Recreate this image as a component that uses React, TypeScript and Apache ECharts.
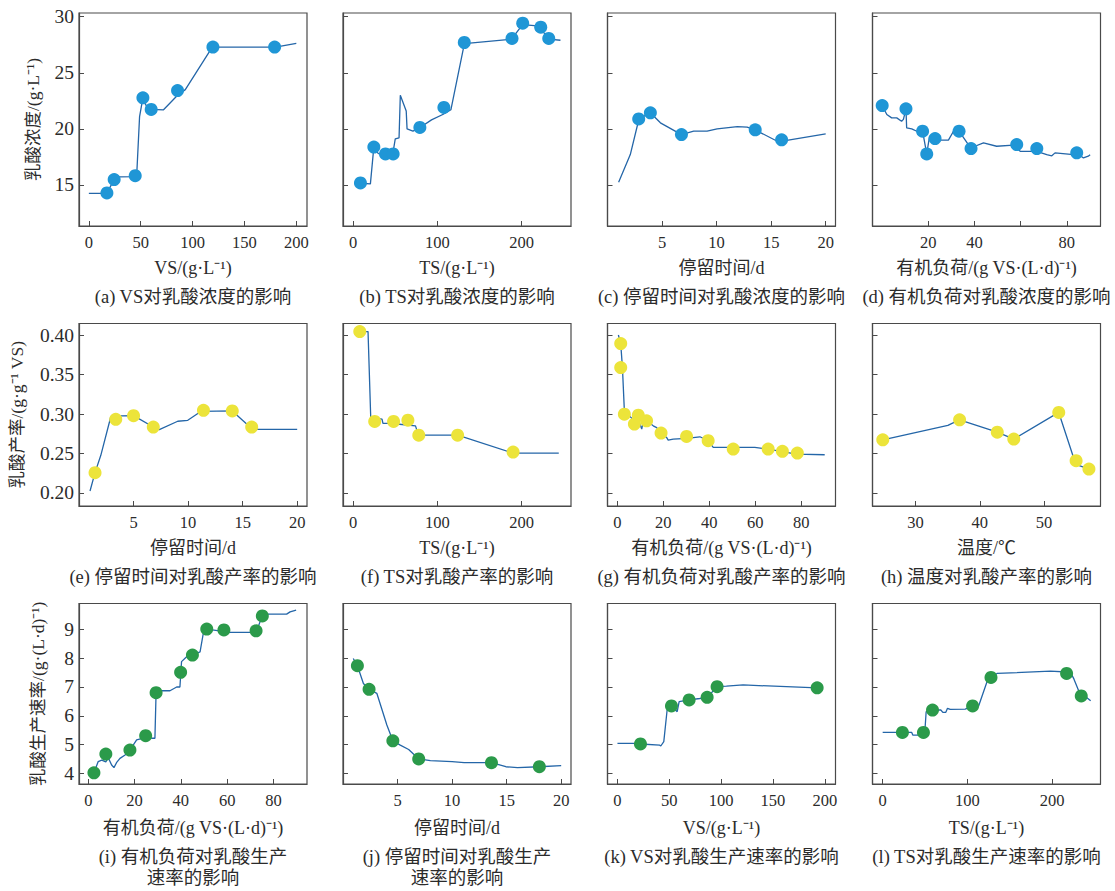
import React, { useEffect, useRef } from "react";
import * as echarts from "echarts";

// ---- 乳酸浓度 (g·L⁻¹) ----
const vsConcPoints = [[17.4, 14.29], [24.4, 15.48], [44.7, 15.83], [52.1, 22.77], [60.1, 21.73], [85.5, 23.42], [119.6, 27.29], [179.1, 27.29]];
const vsConcCurve = [[0, 14.25], [11, 14.25], [17.4, 14.29], [21, 14.9], [24.4, 15.48], [29, 15.72], [44, 15.75], [46.3, 16.2], [48.9, 21.1], [52.1, 22.77], [56, 21.9], [60.1, 21.73], [72, 21.7], [85.5, 23.0], [93, 23.5], [117, 27.0], [120, 27.29], [180, 27.29], [200, 27.62]];

const tsConcPoints = [[8.7, 15.18], [24.6, 18.38], [38.4, 17.76], [47.5, 17.76], [79.2, 20.13], [107.7, 21.91], [131.9, 27.7], [188.5, 28.06], [201.2, 29.42], [222.6, 29.07], [232.1, 28.06]];
const tsConcCurve = [[8.7, 15.15], [20.5, 15.1], [24.5, 18.3], [30, 17.8], [47, 17.75], [50, 19.1], [54.5, 19.2], [56, 23.0], [63, 21.6], [64, 20.0], [71, 19.8], [79, 20.1], [93, 20.8], [107, 21.3], [116, 21.7], [132, 27.6], [188, 28.0], [201, 29.3], [215, 29.2], [222, 29.0], [232, 28.0], [246, 27.9]];

const hrtConcPoints = [[2.86, 20.89], [3.93, 21.43], [6.78, 19.49], [13.54, 19.91], [15.96, 19.02]];
const hrtConcCurve = [[1.02, 15.24], [2.09, 17.71], [2.76, 20.39], [2.86, 20.89], [3.93, 21.43], [4.85, 20.54], [6.78, 19.49], [7.9, 19.79], [9.13, 19.79], [10.05, 20.0], [11.9, 20.2], [12.8, 20.15], [13.54, 19.91], [15.56, 18.9], [16.3, 18.95], [20, 19.55]];

const olrConcPoints = [[0, 22.08], [10.3, 21.79], [17.5, 19.79], [19.3, 17.77], [22.9, 19.14], [33.3, 19.79], [38.5, 18.24], [58.3, 18.6], [67.0, 18.24], [84.3, 17.86]];
const olrConcCurve = [[0, 22.08], [2, 21.28], [4.1, 20.98], [6.3, 20.98], [8.4, 20.68], [9.2, 20.85], [10.3, 21.79], [10.6, 20.09], [12.8, 20.0], [15, 19.79], [17.5, 19.79], [19.3, 17.77], [20.5, 19.3], [22.9, 19.14], [25, 18.99], [28.7, 18.99], [30.9, 19.79], [33.3, 19.79], [36, 19.0], [38.5, 18.24], [40.2, 18.45], [43.9, 18.75], [49.6, 18.45], [56.9, 18.55], [59.8, 18.0], [67, 18.0], [71.3, 17.71], [73.5, 17.6], [74.9, 17.86], [82.9, 17.71], [84.3, 17.86], [87.2, 17.41], [89.3, 17.56], [90.1, 17.7]];

// ---- 乳酸产率 (g·g⁻¹ VS) ----
const hrtYieldPoints = [[1.47, 0.2258], [3.37, 0.2935], [5.0, 0.2981], [6.81, 0.2837], [11.41, 0.3049], [14.05, 0.3041], [15.83, 0.2837]];
const hrtYieldCurve = [[1.01, 0.2025], [1.47, 0.2258], [2.0, 0.2478], [2.91, 0.2964], [3.37, 0.2935], [3.83, 0.2977], [5.0, 0.2981], [6.81, 0.2837], [7.36, 0.2804], [9.05, 0.291], [9.97, 0.2922], [11.2, 0.3036], [14.05, 0.3041], [15.5, 0.2858], [16.4, 0.2808], [20, 0.2808]];

const tsYieldPoints = [[7.9, 0.4047], [25.6, 0.2907], [48.0, 0.2907], [65.0, 0.2924], [77.9, 0.2734], [124.0, 0.2734], [189.8, 0.2519]];
const tsYieldCurve = [[7.9, 0.4047], [17.7, 0.4047], [20.9, 0.2958], [34.3, 0.2937], [35.4, 0.2882], [48, 0.2882], [52, 0.2875], [74, 0.2852], [75.6, 0.2798], [77.9, 0.2734], [124, 0.2734], [189.8, 0.2505], [244, 0.2505]];

const olrYieldPoints = [[1.45, 0.3895], [1.45, 0.3591], [3.04, 0.30], [9.1, 0.2987], [7.4, 0.2874], [12.7, 0.2916], [19.0, 0.276], [30.1, 0.2718], [39.5, 0.2663], [50.4, 0.2557], [65.6, 0.2557], [71.8, 0.2528], [78.3, 0.2506]];
const olrYieldCurve = [[0.43, 0.4004], [1.45, 0.3895], [2.2, 0.359], [3.04, 0.3042], [6.2, 0.295], [9.8, 0.2875], [10.6, 0.281], [11.0, 0.2875], [12.7, 0.2916], [15.6, 0.2852], [17.1, 0.283], [19.0, 0.276], [21.4, 0.2705], [22.1, 0.2671], [24.3, 0.2684], [30.1, 0.2692], [35.9, 0.2713], [39.5, 0.2663], [41.7, 0.2578], [50.4, 0.2578], [59.8, 0.2578], [65.6, 0.2557], [77.9, 0.2494], [90.2, 0.2485]];

const tempYieldPoints = [[24.9, 0.2675], [36.86, 0.2928], [42.73, 0.2772], [45.3, 0.2684], [52.3, 0.3022], [55.0, 0.241], [57.0, 0.2304]];
const tempYieldCurve = [[24.9, 0.2675], [35.04, 0.2857], [35.6, 0.288], [36.86, 0.2928], [42.73, 0.2772], [45.3, 0.2684], [52.3, 0.3022], [54.6, 0.245], [55.4, 0.235], [57.0, 0.2304]];

// ---- 乳酸生产速率 (g·(L·d)⁻¹) ----
const olrRatePoints = [[2.45, 4.02], [7.6, 4.67], [18.0, 4.81], [24.8, 5.31], [29.3, 6.8], [39.9, 7.51], [45.0, 8.11], [51.2, 9.01], [58.6, 8.98], [72.5, 8.95], [75.2, 9.47]];
const olrRateCurve = [[0.4, 4.12], [2.45, 4.02], [4.3, 4.41], [5.8, 4.46], [7.6, 4.4], [8.6, 4.55], [10.1, 4.29], [11.1, 4.2], [12.2, 4.37], [13.7, 4.52], [15.9, 4.64], [18.0, 4.81], [20.9, 5.16], [23.8, 5.22], [24.8, 5.31], [27.4, 5.22], [28.8, 5.22], [29.3, 6.8], [30.1, 6.87], [35.3, 6.87], [38.2, 7.0], [39.6, 7.0], [40.3, 7.88], [42.5, 8.05], [45.0, 8.11], [48.3, 8.22], [49.7, 8.86], [51.2, 9.01], [61.2, 8.9], [72.5, 8.9], [75.2, 9.47], [77.1, 9.53], [85.7, 9.53], [87.2, 9.61], [89.8, 9.67]];

const hrtRatePoints = [[1.32, 7.74], [2.39, 6.92], [4.57, 5.13], [6.94, 4.5], [13.61, 4.37], [18.0, 4.23]];
const hrtRateCurve = [[0.94, 7.99], [1.32, 7.74], [1.87, 7.12], [2.39, 6.92], [3.1, 6.78], [4.02, 5.68], [4.57, 5.13], [5.25, 4.98], [6.02, 4.83], [6.94, 4.5], [8.01, 4.44], [10.0, 4.41], [11.1, 4.37], [12.9, 4.37], [13.61, 4.37], [14.93, 4.23], [16.0, 4.2], [18.0, 4.23], [20, 4.27]];

const vsRatePoints = [[22.2, 5.02], [52.1, 6.34], [69.1, 6.55], [86.5, 6.64], [96.1, 7.01], [192.6, 6.97]];
const vsRateCurve = [[0, 5.04], [15.1, 5.04], [22.2, 5.02], [40.8, 4.98], [41.8, 4.95], [44.7, 5.1], [47.9, 6.2], [52.1, 6.34], [57.6, 6.14], [59.5, 6.49], [69.1, 6.55], [79.4, 6.6], [86.5, 6.64], [96.1, 7.01], [105.1, 7.03], [121.2, 7.07], [192.6, 6.97]];

const tsRatePoints = [[23.3, 5.42], [48.1, 5.42], [58.8, 6.2], [106.1, 6.34], [127.8, 7.33], [217.0, 7.47], [234.3, 6.69]];
const tsRateCurve = [[0, 5.42], [34.3, 5.42], [35.5, 5.33], [48.1, 5.33], [50.1, 5.6], [51.3, 6.14], [58.8, 6.2], [68.6, 6.2], [71, 6.12], [74.5, 6.12], [76.5, 6.26], [79.7, 6.22], [97.4, 6.23], [106.1, 6.34], [113.2, 6.34], [123.1, 7.18], [127.8, 7.33], [134.9, 7.47], [198, 7.55], [217.0, 7.52], [221.7, 7.5], [225.6, 7.28], [231.6, 6.84], [245.4, 6.52]];

// ---- axis texts and ticks ----
const concTicks = [15, 20, 25, 30];
const yieldTicks = [0.2, 0.25, 0.3, 0.35, 0.4];
const rateTicks = [4, 5, 6, 7, 8, 9];
const vsTicks = [0, 50, 100, 150, 200];
const tsTicks = [0, 100, 200];
const hrtTicks = [5, 10, 15, 20];
const olrTicks = [0, 20, 40, 60, 80];
const olrSparseLabels = [20, 40, 80];
const olrSparseTicks = [20, 40, 60, 80];
const tempTicks = [30, 40, 50];

const VS_NAME = "VS/(g·L⁻¹)";
const TS_NAME = "TS/(g·L⁻¹)";
const HRT_NAME = "停留时间/d";
const OLR_NAME = "有机负荷/(g VS·(L·d)⁻¹)";
const TEMP_NAME = "温度/℃";

const rowYNames = ["乳酸浓度/(g·L⁻¹)", "乳酸产率/(g·g⁻¹ VS)", "乳酸生产速率/(g·(L·d)⁻¹)"];

const FONT = "'Liberation Serif', 'Noto Sans CJK SC', serif";
const TEXT_COLOR = "#2b2b2b";
const FRAME_COLOR = "#4a4a4a";
const LINE_COLOR = "#2466a8";
const ROW_COLORS = ["#1f96d6", "#ece43a", "#2b9a4a"];

type Panel = {
  points: number[][];
  curve: number[][];
  xName: string;
  caption: string[];
  xMin: number;
  xMax: number;
  xTicks: number[];
  xLabels?: number[];
};

const panels: Panel[] = [
  { points: vsConcPoints, curve: vsConcCurve, xName: VS_NAME, caption: ["(a) VS对乳酸浓度的影响"], xMin: -9.5, xMax: 210.3, xTicks: vsTicks },
  { points: tsConcPoints, curve: tsConcCurve, xName: TS_NAME, caption: ["(b) TS对乳酸浓度的影响"], xMin: -12, xMax: 258.5, xTicks: tsTicks },
  { points: hrtConcPoints, curve: hrtConcCurve, xName: HRT_NAME, caption: ["(c) 停留时间对乳酸浓度的影响"], xMin: 0, xMax: 20.9, xTicks: hrtTicks },
  { points: olrConcPoints, curve: olrConcCurve, xName: OLR_NAME, caption: ["(d) 有机负荷对乳酸浓度的影响"], xMin: -4.2, xMax: 94.6, xTicks: olrSparseTicks, xLabels: olrSparseLabels },
  { points: hrtYieldPoints, curve: hrtYieldCurve, xName: HRT_NAME, caption: ["(e) 停留时间对乳酸产率的影响"], xMin: 0, xMax: 20.9, xTicks: hrtTicks },
  { points: tsYieldPoints, curve: tsYieldCurve, xName: TS_NAME, caption: ["(f) TS对乳酸产率的影响"], xMin: -12, xMax: 258.5, xTicks: tsTicks },
  { points: olrYieldPoints, curve: olrYieldCurve, xName: OLR_NAME, caption: ["(g) 有机负荷对乳酸产率的影响"], xMin: -4.3, xMax: 94.9, xTicks: olrTicks },
  { points: tempYieldPoints, curve: tempYieldCurve, xName: TEMP_NAME, caption: ["(h) 温度对乳酸产率的影响"], xMin: 23.3, xMax: 58.8, xTicks: tempTicks },
  { points: olrRatePoints, curve: olrRateCurve, xName: OLR_NAME, caption: ["(i) 有机负荷对乳酸生产", "速率的影响"], xMin: -4, xMax: 94.5, xTicks: olrTicks },
  { points: hrtRatePoints, curve: hrtRateCurve, xName: HRT_NAME, caption: ["(j) 停留时间对乳酸生产", "速率的影响"], xMin: 0, xMax: 20.9, xTicks: hrtTicks },
  { points: vsRatePoints, curve: vsRateCurve, xName: VS_NAME, caption: ["(k) VS对乳酸生产速率的影响"], xMin: -9.6, xMax: 210.3, xTicks: vsTicks },
  { points: tsRatePoints, curve: tsRateCurve, xName: TS_NAME, caption: ["(l) TS对乳酸生产速率的影响"], xMin: -12, xMax: 257, xTicks: tsTicks },
];

// layout of the 4 x 3 panel grid (pixels)
const COL_LEFT = [79, 343, 607.5, 872.5];
const COL_WIDTH = 228;
const ROWS = [
  { top: 13, height: 213, yMin: 11.34, yMax: 30.33, ticks: concTicks, digits: 0, yGap: 37, captionY: [297] },
  { top: 323.5, height: 182.5, yMin: 0.1835, yMax: 0.415, ticks: yieldTicks, digits: 2, yGap: 53, captionY: [577] },
  { top: 603.5, height: 180.5, yMin: 3.63, yMax: 9.9, ticks: rateTicks, digits: 0, yGap: 32, captionY: [857, 878] },
];

function buildOption() {
  const grid: any[] = [];
  const xAxis: any[] = [];
  const yAxis: any[] = [];
  const series: any[] = [];
  const graphic: any[] = [];

  panels.forEach((p, i) => {
    const col = i % 4;
    const r = Math.floor(i / 4);
    const row = ROWS[r];
    grid.push({
      left: COL_LEFT[col],
      top: row.top,
      width: COL_WIDTH,
      height: row.height,
      show: true,
      borderColor: FRAME_COLOR,
      borderWidth: 1.2,
      backgroundColor: "transparent",
      containLabel: false,
    });
    xAxis.push({
      type: "value",
      gridIndex: i,
      min: p.xMin,
      max: p.xMax,
      name: p.xName,
      nameLocation: "middle",
      nameGap: r === 2 ? 35 : 33,
      nameTextStyle: { fontFamily: FONT, fontSize: 18, color: TEXT_COLOR },
      axisLine: { show: true, onZero: false, lineStyle: { color: FRAME_COLOR, width: 1.2 } },
      axisTick: { show: true, inside: true, length: 5, customValues: p.xTicks, lineStyle: { color: FRAME_COLOR, width: 1 } },
      axisLabel: {
        show: true,
        margin: 8,
        customValues: p.xLabels || p.xTicks,
        fontFamily: FONT,
        fontSize: 16.5,
        color: TEXT_COLOR,
        showMinLabel: true,
        showMaxLabel: true,
      },
      splitLine: { show: false },
    });
    yAxis.push({
      type: "value",
      gridIndex: i,
      min: row.yMin,
      max: row.yMax,
      name: col === 0 ? rowYNames[r] : "",
      nameLocation: "middle",
      nameRotate: 90,
      nameGap: row.yGap,
      nameTextStyle: { fontFamily: FONT, fontSize: 17.5, color: TEXT_COLOR },
      axisLine: { show: true, onZero: false, lineStyle: { color: FRAME_COLOR, width: 1.2 } },
      axisTick: { show: true, inside: true, length: 5, customValues: row.ticks, lineStyle: { color: FRAME_COLOR, width: 1 } },
      axisLabel: {
        show: col === 0,
        margin: 5,
        customValues: row.ticks,
        fontFamily: FONT,
        fontSize: 19.5,
        color: TEXT_COLOR,
        formatter: (v: number) => v.toFixed(row.digits),
      },
      splitLine: { show: false },
    });
    series.push({
      type: "line",
      xAxisIndex: i,
      yAxisIndex: i,
      data: p.curve,
      showSymbol: false,
      symbol: "none",
      lineStyle: { color: LINE_COLOR, width: 1.3 },
      z: 2,
      silent: true,
    });
    series.push({
      type: "scatter",
      xAxisIndex: i,
      yAxisIndex: i,
      data: p.points,
      symbol: "circle",
      symbolSize: 13,
      itemStyle: { color: ROW_COLORS[r], opacity: 1 },
      z: 3,
      silent: true,
    });
    const cx = COL_LEFT[col] + COL_WIDTH / 2;
    p.caption.forEach((line, k) => {
      graphic.push({
        type: "text",
        x: cx,
        y: row.captionY[k],
        silent: true,
        style: {
          text: line,
          fontFamily: FONT,
          fontSize: 18.5,
          fill: TEXT_COLOR,
          align: "center",
          verticalAlign: "middle",
        },
      });
    });
  });

  return {
    animation: false,
    backgroundColor: "#ffffff",
    grid,
    xAxis,
    yAxis,
    series,
    graphic,
  };
}

export default function App() {
  const ref = useRef<HTMLDivElement>(null);
  useEffect(() => {
    if (!ref.current) return;
    const chart = echarts.init(ref.current, undefined, { renderer: "svg" });
    chart.setOption(buildOption() as any);
    return () => chart.dispose();
  }, []);
  return (
    <div
      ref={ref}
      style={{ position: "absolute", left: 0, top: 0, width: 1115, height: 891, background: "#fff" }}
    />
  );
}
